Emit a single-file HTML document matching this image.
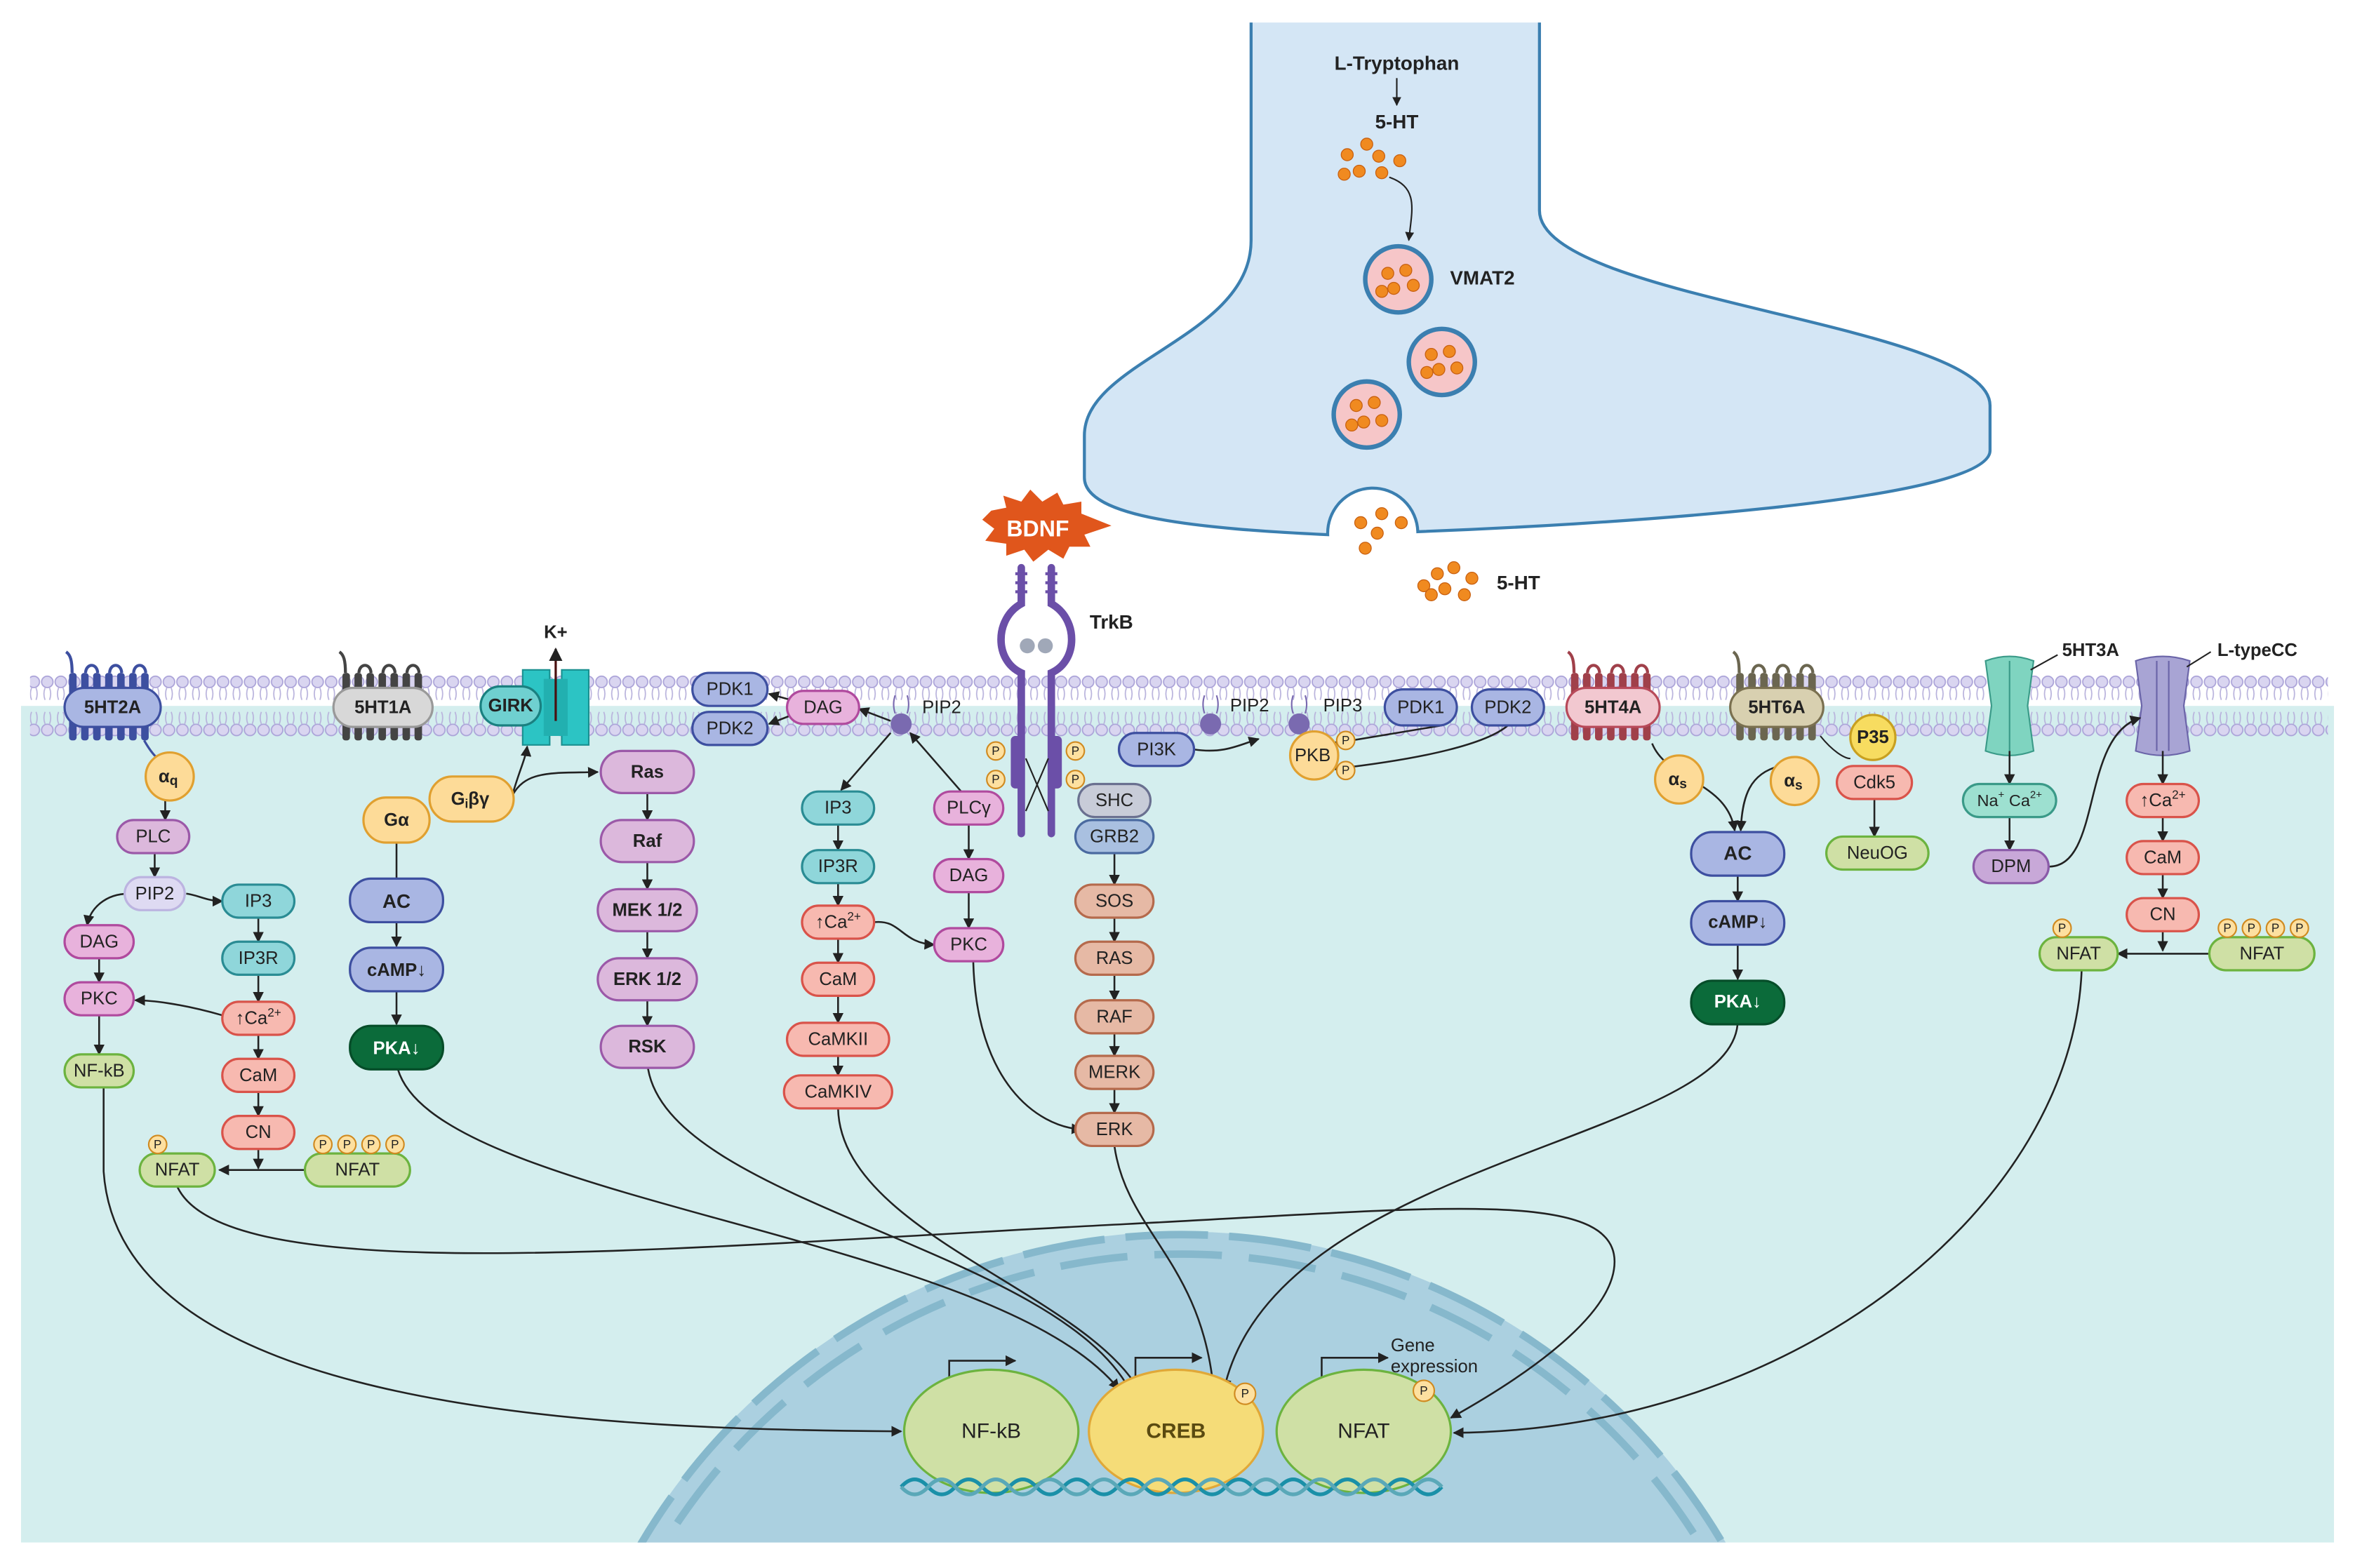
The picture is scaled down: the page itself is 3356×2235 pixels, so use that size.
<!DOCTYPE html>
<html><head><meta charset="utf-8"><style>
html,body{margin:0;padding:0;background:#fff;width:3356px;height:2235px;overflow:hidden}
svg{display:block}
text{font-family:"Liberation Sans",sans-serif;text-anchor:middle;dominant-baseline:central;fill:#222}
.b{font-weight:bold}
</style></head><body>
<svg width="3356" height="2235" viewBox="0 0 1568 1044" preserveAspectRatio="none" xmlns="http://www.w3.org/2000/svg">
<defs>
<marker id="a" viewBox="0 0 10 10" refX="9" refY="5" markerWidth="6" markerHeight="6" orient="auto-start-reverse"><path d="M0,0 L10,5 L0,10 z" fill="#222"/></marker>
<marker id="t" viewBox="0 0 10 10" refX="5" refY="5" markerWidth="8" markerHeight="8" orient="auto"><path d="M5,0 L5,10" stroke="#222" stroke-width="2"/></marker>
<pattern id="lip" x="0" y="448" width="9" height="44" patternUnits="userSpaceOnUse">
<path d="M3,10 q-1.5,4 0,8 M6,10 q1.5,4 0,8 M3,26 q-1.5,4 0,8 M6,26 q1.5,4 0,8" stroke="#b8b2dc" stroke-width="0.8" fill="none"/>
<circle cx="4.5" cy="6" r="3.8" fill="#d9d5f0" stroke="#aaa2d8" stroke-width="0.8"/>
<circle cx="4.5" cy="38" r="3.8" fill="#d9d5f0" stroke="#aaa2d8" stroke-width="0.8"/>
</pattern>
</defs>
<rect width="1568" height="1044" fill="#fff"/>
<rect x="14" y="470" width="1540" height="557" fill="#d4eeee"/>
<rect x="20" y="448" width="1530" height="44" fill="url(#lip)"/>
<clipPath id="cc"><rect x="14" y="470" width="1540" height="557"/></clipPath>
<g clip-path="url(#cc)">
<circle cx="787" cy="1240" r="420" fill="#abd0e0"/>
<circle cx="787" cy="1240" r="418" fill="none" stroke="#86b8cc" stroke-width="5" stroke-dasharray="55 14"/>
<circle cx="787" cy="1240" r="405" fill="none" stroke="#86b8cc" stroke-width="5" stroke-dasharray="45 18"/>
</g>
<path d="M833,15 L833,160 C833,225 722,240 722,290 L722,318 C722,345 800,352 884,356 A30,30 0 0 1 944,354 C1050,350 1325,335 1325,300 L1325,270 C1325,215 1025,200 1025,140 L1025,15" fill="#d4e6f5" stroke="#3b7fb0" stroke-width="2"/>
<text x="930" y="42" class="b" font-size="13">L-Tryptophan</text>
<path d="M930,52 L930,70" stroke="#222" marker-end="url(#a)"/>
<text x="930" y="81" class="b" font-size="13">5-HT</text>
<g fill="#f08a20" stroke="#c86010" stroke-width="0.6">
<circle cx="897" cy="103" r="4"/><circle cx="910" cy="96" r="4"/><circle cx="918" cy="104" r="4"/><circle cx="905" cy="114" r="4"/><circle cx="920" cy="115" r="4"/><circle cx="932" cy="107" r="4"/><circle cx="895" cy="116" r="4"/>
</g>
<path d="M925,118 C945,125 940,140 938,160" stroke="#222" fill="none" marker-end="url(#a)"/>
<g stroke="#3b7fb0" stroke-width="3" fill="#f6c6c8">
<circle cx="931" cy="186" r="22"/><circle cx="960" cy="241" r="22"/><circle cx="910" cy="276" r="22"/>
</g>
<g fill="#f08a20" stroke="#c86010" stroke-width="0.6">
<circle cx="924" cy="182" r="4"/><circle cx="936" cy="180" r="4"/><circle cx="928" cy="192" r="4"/><circle cx="941" cy="190" r="4"/><circle cx="920" cy="194" r="4"/>
<circle cx="953" cy="236" r="4"/><circle cx="965" cy="234" r="4"/><circle cx="958" cy="246" r="4"/><circle cx="970" cy="245" r="4"/><circle cx="950" cy="248" r="4"/>
<circle cx="903" cy="270" r="4"/><circle cx="915" cy="268" r="4"/><circle cx="908" cy="281" r="4"/><circle cx="920" cy="280" r="4"/><circle cx="900" cy="283" r="4"/>
<circle cx="906" cy="348" r="4"/><circle cx="920" cy="342" r="4"/><circle cx="933" cy="348" r="4"/><circle cx="917" cy="355" r="4"/><circle cx="909" cy="365" r="4"/>
<circle cx="948" cy="390" r="4"/><circle cx="957" cy="382" r="4"/><circle cx="968" cy="378" r="4"/><circle cx="962" cy="392" r="4"/><circle cx="975" cy="396" r="4"/><circle cx="980" cy="385" r="4"/><circle cx="953" cy="396" r="4"/>
</g>
<text x="987" y="185" class="b" font-size="13">VMAT2</text>
<text x="1011" y="388" class="b" font-size="13">5-HT</text>
<path d="M660,340 L670,338 L668,330 L680,334 L686,326 L694,334 L704,328 L708,336 L720,334 L720,342 L740,350 L722,356 L726,364 L712,364 L708,372 L698,366 L688,374 L682,366 L670,370 L670,362 L656,360 L662,352 L654,346 z" fill="#e0561c"/>
<text x="691" y="352" class="b" font-size="15" style="fill:#fff">BDNF</text>
<g stroke="#6b4fa8" stroke-width="5" fill="none" stroke-linecap="round">
<path d="M680,378 L680,402 C662,412 662,440 680,448 L680,555"/>
<path d="M700,378 L700,402 C718,412 718,440 700,448 L700,555"/>
</g>
<g stroke="#6b4fa8" stroke-width="2"><path d="M676,382 h8 M676,388 h8 M676,394 h8 M696,382 h8 M696,388 h8 M696,394 h8"/></g>
<rect x="673" y="490" width="9" height="35" rx="3" fill="#6b4fa8"/><rect x="698" y="490" width="9" height="35" rx="3" fill="#6b4fa8"/>
<circle cx="684" cy="430" r="5" fill="#a0a8b8"/><circle cx="696" cy="430" r="5" fill="#a0a8b8"/>
<text x="740" y="414" class="b" font-size="13">TrkB</text>
<path d="M683,505 L698,540 M698,505 L683,540" stroke="#222" stroke-width="1"/>
<g fill="#3d4fa0">
<rect x="46" y="448" width="5" height="45" rx="2"/><rect x="54" y="448" width="5" height="45" rx="2"/><rect x="62" y="448" width="5" height="45" rx="2"/><rect x="70" y="448" width="5" height="45" rx="2"/><rect x="78" y="448" width="5" height="45" rx="2"/><rect x="86" y="448" width="5" height="45" rx="2"/><rect x="94" y="448" width="5" height="45" rx="2"/>
<path d="M48,448 C48,440 47,436 44,434 M57,448 a4,5 0 0 1 8,0 M73,448 a4,5 0 0 1 8,0 M89,448 a4,5 0 0 1 8,0" stroke="#3d4fa0" stroke-width="2" fill="none"/>
</g>
<path d="M96,493 C100,500 104,505 106,505" stroke="#3d4fa0" stroke-width="1.5" fill="none"/>
<g fill="#444">
<rect x="228" y="448" width="5" height="45" rx="2"/><rect x="236" y="448" width="5" height="45" rx="2"/><rect x="244" y="448" width="5" height="45" rx="2"/><rect x="252" y="448" width="5" height="45" rx="2"/><rect x="260" y="448" width="5" height="45" rx="2"/><rect x="268" y="448" width="5" height="45" rx="2"/><rect x="276" y="448" width="5" height="45" rx="2"/>
<path d="M230,448 C230,440 229,436 226,434 M239,448 a4,5 0 0 1 8,0 M255,448 a4,5 0 0 1 8,0 M271,448 a4,5 0 0 1 8,0" stroke="#444" stroke-width="2" fill="none"/>
</g>
<g fill="#a0404a">
<rect x="1046" y="448" width="5" height="45" rx="2"/><rect x="1054" y="448" width="5" height="45" rx="2"/><rect x="1062" y="448" width="5" height="45" rx="2"/><rect x="1070" y="448" width="5" height="45" rx="2"/><rect x="1078" y="448" width="5" height="45" rx="2"/><rect x="1086" y="448" width="5" height="45" rx="2"/><rect x="1094" y="448" width="5" height="45" rx="2"/>
<path d="M1048,448 C1048,440 1047,436 1044,434 M1057,448 a4,5 0 0 1 8,0 M1073,448 a4,5 0 0 1 8,0 M1089,448 a4,5 0 0 1 8,0" stroke="#a0404a" stroke-width="2" fill="none"/>
</g>
<g fill="#6b6650">
<rect x="1156" y="448" width="5" height="45" rx="2"/><rect x="1164" y="448" width="5" height="45" rx="2"/><rect x="1172" y="448" width="5" height="45" rx="2"/><rect x="1180" y="448" width="5" height="45" rx="2"/><rect x="1188" y="448" width="5" height="45" rx="2"/><rect x="1196" y="448" width="5" height="45" rx="2"/><rect x="1204" y="448" width="5" height="45" rx="2"/>
<path d="M1158,448 C1158,440 1157,436 1154,434 M1167,448 a4,5 0 0 1 8,0 M1183,448 a4,5 0 0 1 8,0 M1199,448 a4,5 0 0 1 8,0" stroke="#6b6650" stroke-width="2" fill="none"/>
</g>
<path d="M348,446 h18 v50 h-18 z M374,446 h18 v50 h-18 z" fill="#2cc4c4" stroke="#1a9090"/>
<rect x="362" y="452" width="16" height="38" fill="#22b0b0"/>
<path d="M370,480 L370,432" stroke="#4a1010" stroke-width="1.5" marker-end="url(#a)"/>
<text x="370" y="421" class="b" font-size="12">K+</text>
<path d="M1322,440 q16,-6 32,0 l-4,30 l4,30 q-16,6 -32,0 l4,-30 z" fill="#7fd4c0" stroke="#3a9a88"/>
<path d="M1338,440 v60" stroke="#3a9a88"/>
<text x="1392" y="433" class="b" font-size="12">5HT3A</text>
<path d="M1352,446 L1370,436" stroke="#222"/>
<path d="M1422,440 q18,-6 36,0 l-4,30 l4,30 q-18,6 -36,0 l4,-30 z" fill="#a8a4d4" stroke="#6a64a8"/>
<path d="M1436,440 v60 M1444,440 v60" stroke="#6a64a8"/>
<text x="1503" y="433" class="b" font-size="12">L-typeCC</text>
<path d="M1456,444 L1472,434" stroke="#222"/>

<g stroke="#222" stroke-width="1.2" fill="none" marker-end="url(#a)">
<path d="M110,533 V546"/><path d="M103,568 V584"/>
<path d="M86,595 C70,595 60,605 58,616"/><path d="M124,595 C132,596 138,600 148,600"/>
<path d="M172,611 V627"/><path d="M172,649 V667"/><path d="M172,689 V705"/><path d="M172,727 V743"/><path d="M172,765 V778"/>
<path d="M66,638 V654"/><path d="M66,676 V702"/>
<path d="M148,676 C120,668 100,666 90,666"/>
<path d="M205,779 H146"/>
<path d="M264,614 V630"/><path d="M264,660 V682"/>
<path d="M341,530 C345,515 350,505 351,497"/>
<path d="M341,530 C350,512 370,515 398,514"/>
<path d="M431,528 V546"/><path d="M431,574 V592"/><path d="M431,620 V638"/><path d="M431,666 V683"/>
<path d="M530,467 L512,462"/><path d="M530,475 L512,482"/>
<path d="M593,480 L572,472"/>
<path d="M593,488 L560,526"/>
<path d="M640,527 L606,488"/>
<path d="M558,549 V566"/><path d="M558,588 V603"/><path d="M558,625 V641"/><path d="M558,663 V681"/><path d="M558,703 V716"/>
<path d="M645,549 V572"/><path d="M645,594 V618"/>
<path d="M582,614 C600,612 600,628 622,629"/>
<path d="M742,568 V589"/><path d="M742,611 V627"/><path d="M742,649 V666"/><path d="M742,688 V703"/><path d="M742,725 V741"/>
<path d="M795,499 C815,502 825,496 838,492"/>
<path d="M960,483 L888,495"/>
<path d="M1004,483 C990,495 950,505 888,512"/>
<path d="M1100,495 C1110,520 1150,520 1155,553"/><path d="M1185,510 C1165,515 1160,530 1159,553"/>
<path d="M1157,582 V600"/><path d="M1157,628 V652"/>
<path d="M1248,532 V557"/>
<path d="M1338,500 V522"/><path d="M1338,544 V566"/>
<path d="M1364,577 C1400,577 1385,490 1425,478"/>
<path d="M1440,500 V522"/><path d="M1440,544 V560"/><path d="M1440,582 V598"/><path d="M1440,620 V633"/>
<path d="M1472,635 H1410"/>
<path d="M69,724 L69,780 C80,940 400,952 600,953"/>
<path d="M118,790 C150,860 450,830 750,815 C950,805 1075,790 1075,840 C1075,880 1000,925 966,944"/>
<path d="M264,708 C280,800 660,820 745,925"/>
<path d="M431,708 C440,800 700,830 752,925"/>
<path d="M558,738 C560,820 720,860 758,925"/>
<path d="M648,640 C650,720 690,750 720,752"/>
<path d="M742,763 C750,820 800,840 808,925"/>
<path d="M1157,678 C1160,760 850,770 815,925"/>
<path d="M1386,646 C1380,800 1200,952 968,954"/>
<path d="M632,935 V906 H676"/><path d="M756,933 V904 H800"/><path d="M880,933 V904 H924"/>
</g>
<path d="M264,561 V586" stroke="#222" stroke-width="1.2" marker-end="url(#t)"/>
<g fill="#7a6ab0"><circle cx="600" cy="482" r="7"/><circle cx="806" cy="482" r="7"/><circle cx="865" cy="482" r="7"/></g>
<path d="M596,475 q-2,-6 0,-12 M604,475 q2,-6 0,-12 M802,475 q-2,-6 0,-12 M810,475 q2,-6 0,-12 M861,475 q-2,-6 0,-12 M869,475 q2,-6 0,-12" stroke="#7a6ab0" fill="none"/>
<text x="627" y="471" font-size="12">PIP2</text><text x="832" y="470" font-size="12">PIP2</text><text x="894" y="470" font-size="12">PIP3</text>

<g stroke-width="1.5" font-size="12">
<rect x="43" y="458" width="64" height="26" rx="13" fill="#a9b6e3" stroke="#3d4fa0"/><text x="75" y="471" class="b">5HT2A</text>
<circle cx="113" cy="517" r="16" fill="#fddb98" stroke="#e0a030"/><text x="112" y="517" class="b">α<tspan font-size="9" dy="3">q</tspan></text>
<rect x="78" y="546" width="48" height="22" rx="11" fill="#dcb8dc" stroke="#9b59a8"/><text x="102" y="557">PLC</text>
<rect x="83" y="584" width="40" height="22" rx="11" fill="#dedaf2" stroke="#bcb4e0"/><text x="103" y="595">PIP2</text>
<rect x="148" y="589" width="48" height="22" rx="11" fill="#8fd6da" stroke="#2a8c94"/><text x="172" y="600">IP3</text>
<rect x="148" y="627" width="48" height="22" rx="11" fill="#8fd6da" stroke="#2a8c94"/><text x="172" y="638">IP3R</text>
<rect x="148" y="667" width="48" height="22" rx="11" fill="#f7b9b0" stroke="#d9534a"/><text x="172" y="678">↑Ca<tspan font-size="8" dy="-4">2+</tspan></text>
<rect x="148" y="705" width="48" height="22" rx="11" fill="#f7b9b0" stroke="#d9534a"/><text x="172" y="716">CaM</text>
<rect x="148" y="743" width="48" height="22" rx="11" fill="#f7b9b0" stroke="#d9534a"/><text x="172" y="754">CN</text>
<rect x="43" y="616" width="46" height="22" rx="11" fill="#e8b2dc" stroke="#b04a9e"/><text x="66" y="627">DAG</text>
<rect x="43" y="654" width="46" height="22" rx="11" fill="#e8b2dc" stroke="#b04a9e"/><text x="66" y="665">PKC</text>
<rect x="43" y="702" width="46" height="22" rx="11" fill="#cfe0a5" stroke="#6cb33f"/><text x="66" y="713">NF-kB</text>
<rect x="93" y="768" width="50" height="22" rx="11" fill="#cfe0a5" stroke="#6cb33f"/><text x="118" y="779">NFAT</text>
<rect x="203" y="768" width="70" height="22" rx="11" fill="#cfe0a5" stroke="#6cb33f"/><text x="238" y="779">NFAT</text>
<rect x="222" y="458" width="66" height="26" rx="13" fill="#d8d8d8" stroke="#999"/><text x="255" y="471" class="b">5HT1A</text>
<rect x="320" y="457" width="40" height="26" rx="13" fill="#6fd0d0" stroke="#1a8080"/><text x="340" y="470" class="b">GIRK</text>
<rect x="286" y="517" width="56" height="30" rx="15" fill="#fddb98" stroke="#e0a030"/><text x="313" y="532" class="b">G<tspan font-size="8" dy="3">i</tspan><tspan dy="-3">βγ</tspan></text>
<rect x="242" y="531" width="44" height="30" rx="15" fill="#fddb98" stroke="#e0a030"/><text x="264" y="546" class="b">Gα</text>
<rect x="233" y="585" width="62" height="29" rx="14" fill="#a9b6e3" stroke="#3d4fa0"/><text x="264" y="600" class="b" font-size="13">AC</text>
<rect x="233" y="631" width="62" height="29" rx="14" fill="#a9b6e3" stroke="#3d4fa0"/><text x="264" y="646" class="b">cAMP↓</text>
<rect x="233" y="683" width="62" height="29" rx="14" fill="#0b6b3a" stroke="#064d29"/><text x="264" y="698" class="b" style="fill:#fff">PKA↓</text>
<rect x="400" y="500" width="62" height="28" rx="14" fill="#dcb8dc" stroke="#9b59a8"/><text x="431" y="514" class="b">Ras</text>
<rect x="400" y="546" width="62" height="28" rx="14" fill="#dcb8dc" stroke="#9b59a8"/><text x="431" y="560" class="b">Raf</text>
<rect x="398" y="592" width="66" height="28" rx="14" fill="#dcb8dc" stroke="#9b59a8"/><text x="431" y="606" class="b">MEK 1/2</text>
<rect x="398" y="638" width="66" height="28" rx="14" fill="#dcb8dc" stroke="#9b59a8"/><text x="431" y="652" class="b">ERK 1/2</text>
<rect x="400" y="683" width="62" height="28" rx="14" fill="#dcb8dc" stroke="#9b59a8"/><text x="431" y="697" class="b">RSK</text>
<rect x="461" y="448" width="50" height="22" rx="11" fill="#a9b6e3" stroke="#3d4fa0"/><text x="486" y="459">PDK1</text>
<rect x="461" y="474" width="50" height="22" rx="11" fill="#a9b6e3" stroke="#3d4fa0"/><text x="486" y="485">PDK2</text>
<rect x="524" y="460" width="48" height="22" rx="11" fill="#e8b2dc" stroke="#b04a9e"/><text x="548" y="471">DAG</text>
<rect x="534" y="527" width="48" height="22" rx="11" fill="#8fd6da" stroke="#2a8c94"/><text x="558" y="538">IP3</text>
<rect x="534" y="566" width="48" height="22" rx="11" fill="#8fd6da" stroke="#2a8c94"/><text x="558" y="577">IP3R</text>
<rect x="534" y="603" width="48" height="22" rx="11" fill="#f7b9b0" stroke="#d9534a"/><text x="558" y="614">↑Ca<tspan font-size="8" dy="-4">2+</tspan></text>
<rect x="534" y="641" width="48" height="22" rx="11" fill="#f7b9b0" stroke="#d9534a"/><text x="558" y="652">CaM</text>
<rect x="524" y="681" width="68" height="22" rx="11" fill="#f7b9b0" stroke="#d9534a"/><text x="558" y="692">CaMKII</text>
<rect x="522" y="716" width="72" height="22" rx="11" fill="#f7b9b0" stroke="#d9534a"/><text x="558" y="727">CaMKIV</text>
<rect x="622" y="527" width="46" height="22" rx="11" fill="#e8b2dc" stroke="#b04a9e"/><text x="645" y="538">PLCγ</text>
<rect x="622" y="572" width="46" height="22" rx="11" fill="#e8b2dc" stroke="#b04a9e"/><text x="645" y="583">DAG</text>
<rect x="622" y="618" width="46" height="22" rx="11" fill="#e8b2dc" stroke="#b04a9e"/><text x="645" y="629">PKC</text>
<rect x="718" y="522" width="48" height="22" rx="11" fill="#c8ccd8" stroke="#6a7090"/><text x="742" y="533">SHC</text>
<rect x="716" y="546" width="52" height="22" rx="11" fill="#a9c0e0" stroke="#4a6aa0"/><text x="742" y="557">GRB2</text>
<rect x="716" y="589" width="52" height="22" rx="11" fill="#e6b9a5" stroke="#b56a4c"/><text x="742" y="600">SOS</text>
<rect x="716" y="627" width="52" height="22" rx="11" fill="#e6b9a5" stroke="#b56a4c"/><text x="742" y="638">RAS</text>
<rect x="716" y="666" width="52" height="22" rx="11" fill="#e6b9a5" stroke="#b56a4c"/><text x="742" y="677">RAF</text>
<rect x="716" y="703" width="52" height="22" rx="11" fill="#e6b9a5" stroke="#b56a4c"/><text x="742" y="714">MERK</text>
<rect x="716" y="741" width="52" height="22" rx="11" fill="#e6b9a5" stroke="#b56a4c"/><text x="742" y="752">ERK</text>
<rect x="745" y="488" width="50" height="22" rx="11" fill="#a9b6e3" stroke="#3d4fa0"/><text x="770" y="499">PI3K</text>
<circle cx="875" cy="503" r="16" fill="#fddb98" stroke="#e0a030"/><text x="874" y="503">PKB</text>
<rect x="922" y="459" width="48" height="24" rx="12" fill="#a9b6e3" stroke="#3d4fa0"/><text x="946" y="471">PDK1</text>
<rect x="980" y="459" width="48" height="24" rx="12" fill="#a9b6e3" stroke="#3d4fa0"/><text x="1004" y="471">PDK2</text>
<rect x="1043" y="458" width="62" height="26" rx="13" fill="#f2c8d0" stroke="#b84a5a"/><text x="1074" y="471" class="b">5HT4A</text>
<circle cx="1118" cy="519" r="16" fill="#fddb98" stroke="#e0a030"/><text x="1117" y="519" class="b">α<tspan font-size="9" dy="3">s</tspan></text>
<circle cx="1195" cy="520" r="16" fill="#fddb98" stroke="#e0a030"/><text x="1194" y="520" class="b">α<tspan font-size="9" dy="3">s</tspan></text>
<rect x="1126" y="554" width="62" height="29" rx="14" fill="#a9b6e3" stroke="#3d4fa0"/><text x="1157" y="568" class="b" font-size="13">AC</text>
<rect x="1126" y="600" width="62" height="29" rx="14" fill="#a9b6e3" stroke="#3d4fa0"/><text x="1157" y="614" class="b">cAMP↓</text>
<rect x="1126" y="653" width="62" height="29" rx="14" fill="#0b6b3a" stroke="#064d29"/><text x="1157" y="667" class="b" style="fill:#fff">PKA↓</text>
<rect x="1152" y="458" width="62" height="26" rx="13" fill="#d8d0b0" stroke="#7a7050"/><text x="1183" y="471" class="b">5HT6A</text>
<circle cx="1247" cy="491" r="15" fill="#f7dc60" stroke="#c8a020"/><text x="1247" y="491" class="b">P35</text>
<path d="M1212,490 C1220,500 1228,505 1232,505" stroke="#222" fill="none" stroke-width="1"/>
<rect x="1223" y="510" width="50" height="22" rx="11" fill="#f7b9b0" stroke="#d9534a"/><text x="1248" y="521">Cdk5</text>
<rect x="1216" y="557" width="68" height="22" rx="11" fill="#cfe0a5" stroke="#6cb33f"/><text x="1250" y="568">NeuOG</text>
<rect x="1307" y="522" width="62" height="22" rx="11" fill="#9de0d0" stroke="#3a9a88"/><text x="1338" y="533" font-size="11">Na<tspan font-size="7" dy="-4">+</tspan><tspan dy="4"> Ca</tspan><tspan font-size="7" dy="-4">2+</tspan></text>
<rect x="1314" y="566" width="50" height="22" rx="11" fill="#c8a8d8" stroke="#8a5aa8"/><text x="1339" y="577">DPM</text>
<rect x="1416" y="522" width="48" height="22" rx="11" fill="#f7b9b0" stroke="#d9534a"/><text x="1440" y="533">↑Ca<tspan font-size="8" dy="-4">2+</tspan></text>
<rect x="1416" y="560" width="48" height="22" rx="11" fill="#f7b9b0" stroke="#d9534a"/><text x="1440" y="571">CaM</text>
<rect x="1416" y="598" width="48" height="22" rx="11" fill="#f7b9b0" stroke="#d9534a"/><text x="1440" y="609">CN</text>
<rect x="1358" y="624" width="52" height="22" rx="11" fill="#cfe0a5" stroke="#6cb33f"/><text x="1384" y="635">NFAT</text>
<rect x="1471" y="624" width="70" height="22" rx="11" fill="#cfe0a5" stroke="#6cb33f"/><text x="1506" y="635">NFAT</text>
<ellipse cx="660" cy="953" rx="58" ry="41" fill="#cfe0a5" stroke="#6cb33f"/><text x="660" y="953" font-size="14">NF-kB</text>
<ellipse cx="783" cy="953" rx="58" ry="41" fill="#f5dc78" stroke="#e0a838"/><text x="783" y="953" font-size="14" class="b" style="fill:#5a4a10">CREB</text>
<ellipse cx="908" cy="953" rx="58" ry="41" fill="#cfe0a5" stroke="#6cb33f"/><text x="908" y="953" font-size="14">NFAT</text>
</g>
<text x="926" y="896" font-size="12" style="text-anchor:start">Gene</text>
<text x="926" y="910" font-size="12" style="text-anchor:start">expression</text>
<g stroke="#d08a20" stroke-width="1" fill="#fde0a0">
<circle cx="105" cy="762" r="6"/><circle cx="215" cy="762" r="6"/><circle cx="231" cy="762" r="6"/><circle cx="247" cy="762" r="6"/><circle cx="263" cy="762" r="6"/>
<circle cx="663" cy="500" r="6"/><circle cx="663" cy="519" r="6"/><circle cx="716" cy="500" r="6"/><circle cx="716" cy="519" r="6"/>
<circle cx="896" cy="493" r="6"/><circle cx="896" cy="513" r="6"/>
<circle cx="1373" cy="618" r="6"/><circle cx="1483" cy="618" r="6"/><circle cx="1499" cy="618" r="6"/><circle cx="1515" cy="618" r="6"/><circle cx="1531" cy="618" r="6"/>
<circle cx="829" cy="928" r="7"/><circle cx="948" cy="926" r="7"/>
</g>
<g font-size="8">
<text x="105" y="762">P</text><text x="215" y="762">P</text><text x="231" y="762">P</text><text x="247" y="762">P</text><text x="263" y="762">P</text>
<text x="663" y="500">P</text><text x="663" y="519">P</text><text x="716" y="500">P</text><text x="716" y="519">P</text>
<text x="896" y="493">P</text><text x="896" y="513">P</text>
<text x="1373" y="618">P</text><text x="1483" y="618">P</text><text x="1499" y="618">P</text><text x="1515" y="618">P</text><text x="1531" y="618">P</text>
<text x="829" y="928">P</text><text x="948" y="926">P</text>
</g>
<path d="M600,990 q9,-10 18,0 t18,0 t18,0 t18,0 t18,0 t18,0 t18,0 t18,0 t18,0 t18,0 t18,0 t18,0 t18,0 t18,0 t18,0 t18,0 t18,0 t18,0 t18,0 t18,0" stroke="#1a90a8" stroke-width="2.5" fill="none"/>
<path d="M600,990 q9,10 18,0 t18,0 t18,0 t18,0 t18,0 t18,0 t18,0 t18,0 t18,0 t18,0 t18,0 t18,0 t18,0 t18,0 t18,0 t18,0 t18,0 t18,0 t18,0 t18,0" stroke="#5aa8b8" stroke-width="2.5" fill="none"/>
</svg>
</body></html>
